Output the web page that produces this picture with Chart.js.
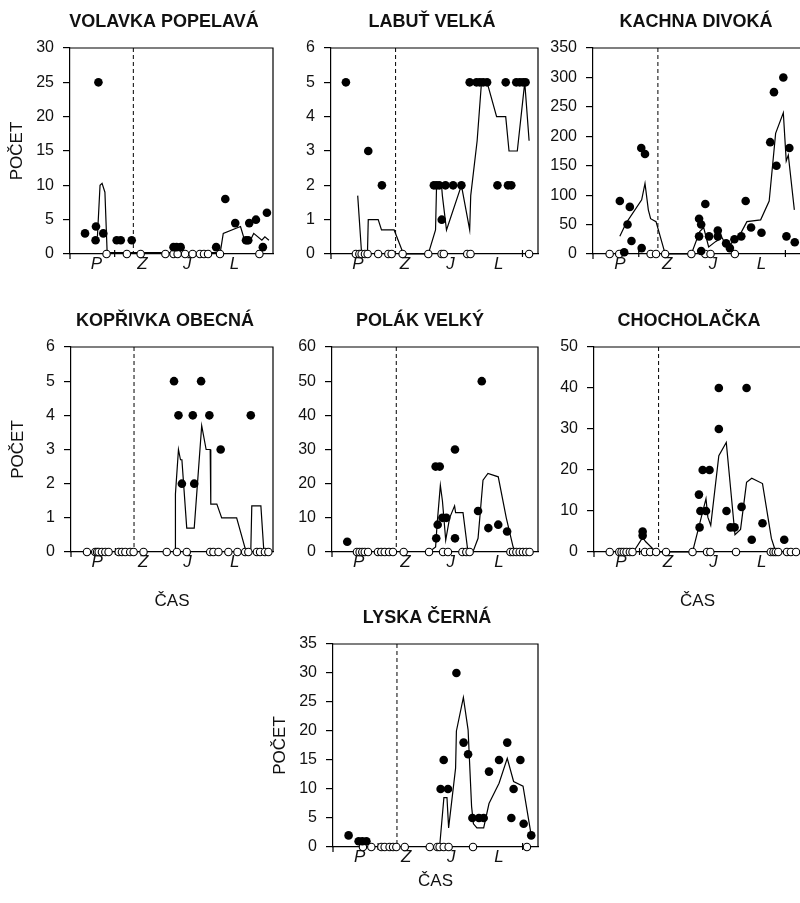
<!DOCTYPE html>
<html>
<head>
<meta charset="utf-8">
<script src="https://cdn.jsdelivr.net/npm/chart.js@4.4.0/dist/chart.umd.min.js"></script>
<style>
  body { margin: 0; background: #fff; }
  #wrap { position: relative; width: 800px; height: 903px; overflow: hidden; background: #fff; }
  .panel { position: absolute; }
</style>
</head>
<body>
<div id="wrap"></div>
<script>
// time axis: 0-100 across the season, labels P Z J L
var seasonLabels = ['P', 'Z', 'J', 'L'];
var seasonPos = [13, 35.7, 57.7, 81];
var yearTicks = [22, 92.5];
var winterStart = 31.2;

// [x, count] for counts > 0, x for zero counts, [x, mean] for the line
var volavkaDots = [[7.4,3],[12.6,2],[12.8,4],[14,25],[16.4,3],[23,2],[25,2],[30.4,2],[51,1],[52.5,1],[54.5,1],[72,1],[76.5,8],[81.4,4.5],[86.7,2],[87.8,2],[88.3,4.5],[91.6,5],[95,1],[97,6]];
var volavkaZeros = [18,28,34.8,47,51,53,56.7,60.4,64,66,68,73.9,93.3];
var volavkaMean = [[13.5,2.5],[14.8,10],[15.8,10.3],[17.2,9],[18.3,0.2],[30,0.2],[74,0.2],[75.5,3],[84,4],[86.5,1.5],[88,1.5],[90.5,3],[94.5,2],[96,2.5],[98,2]];

var labutDots = [[7.2,5],[18,3],[24.6,2],[49.7,2],[51,2],[52.3,2],[53.5,1],[55.3,2],[59,2],[63,2],[67,5],[70.3,5],[71.9,5],[73.5,5],[75.4,5],[80.4,2],[84.4,5],[85.5,2],[87.1,2],[89.5,5],[91.2,5],[92.8,5],[94,5]];
var labutZeros = [12,13.7,14.8,16.4,17.7,22.8,27.7,29.3,34.6,47,53.4,54.5,65.8,67.4,95.7];
var labutMean = [[12.9,1.7],[14.8,0],[17.6,0],[18,1],[22.8,1],[24.4,0.7],[30.5,0.7],[35,0],[47,0],[50.5,0.7],[51,2],[53.4,2],[53.8,1.7],[55.8,0.7],[63,2],[67,0.7],[67.5,1.7],[70.6,3.3],[72.7,5],[75.4,5],[80,4],[84.4,4],[86,3],[90,3],[93.6,5],[95.7,3.3]];

var kachnaDots = [[12.9,90],[15,3],[16.6,50],[17.7,80],[18.5,22],[23.2,180],[25,170],[23.4,10],[51,60],[52,50],[51,30],[52,5],[54,85],[55.8,30],[60,40],[60,30],[64,18],[65.8,10],[68,25],[71.3,30],[73.4,90],[76,45],[81,36],[85.2,190],[87,275],[88.2,150],[91.5,300],[93,30],[94.4,180],[97,20]];
var kachnaZeros = [8,12.6,27.7,30.3,34.7,47.3,54,56.5,68.2];
var kachnaMean = [[12.9,30],[16,53],[23.4,92],[25,120],[26.6,75],[27.7,60],[30.3,55],[34.7,0],[47.3,0],[51.3,38],[53.2,45],[55.6,12],[58.9,21],[62,28],[64.5,12],[67.7,22],[71,35],[74,55],[80.6,58],[84.7,90],[87.8,205],[91.5,240],[92.9,158],[93.9,168],[96.8,75]];

var koprivkaDots = [[51,5],[53.2,4],[54.9,2],[60.3,4],[61,2],[64.4,5],[68.5,4],[74.1,3],[89,4]];
var koprivkaZeros = [7.9,12,12.9,13.7,15.3,17,18.6,23.6,25.2,26.9,29.3,31,35.9,47.4,52.4,57.3,68.9,70.5,73,77.9,82.4,86.2,87.8,92,93.6,96,97.7];
var koprivkaMean = [[51.6,0],[51.7,1.7],[53.2,3],[54.2,2.7],[54.9,2.7],[57.3,0.7],[61,0.7],[64.7,3.7],[66.9,3],[68.9,3],[69.2,1.4],[72.2,1.4],[74.6,1],[82,1],[86.7,0],[89,0],[89.5,1.35],[94,1.35],[95.5,0]];

var polakDots = [[7.4,3],[50.3,25],[52.3,25],[50.6,4],[51.3,8],[53.6,10],[55.5,10],[59.7,30],[59.7,4],[70.9,12],[72.7,50],[75.9,7],[80.7,8],[85,6]];
var polakZeros = [12.1,13.4,14.7,15.9,17.5,22.3,23.9,25.6,27.7,29.6,34.8,47.1,53.9,56.3,63.3,65.2,66.8,86.6,87.9,89.5,91.1,92.7,94.3,95.9];
var polakMean = [[47.1,0],[50.3,1.5],[51,8],[52.6,19.5],[53.6,15],[55.2,3.5],[57.1,10],[59.5,13.5],[60,11.5],[63.6,11.5],[66,0],[68.4,0],[70.9,4],[73.3,21],[75.7,23],[80.7,22],[84.6,10],[87.9,1.5],[89.2,0]];

var chocholackaDots = [[23.5,5],[23.5,4],[50.7,14],[51.4,10],[51,6],[52.5,20],[55.8,20],[54.1,10],[60.3,40],[60.3,30],[64,10],[66,6],[67.9,6],[71.3,11],[73.7,40],[76.2,3],[81.4,7],[91.9,3]];
var chocholackaZeros = [7.6,12.2,13.3,14.4,15.7,17.3,18.6,24.6,27.1,30,34.8,47.6,54.6,56.2,68.6,85.4,86.7,87.8,89,93.2,95.1,97.6];
var chocholackaMean = [[19,0],[23.5,3.5],[25,2.5],[30,0],[47.6,0],[50.6,6],[54.1,13],[55,8.5],[56.4,6.5],[60.3,23.5],[63.9,26.7],[68.1,4.2],[70.8,5.5],[73.7,17],[76.2,18],[81.4,16.7],[85.7,3.3],[87.8,0]];

var lyskaDots = [[7.6,2],[12.5,1],[14.3,1],[16.3,1],[52.5,10],[54,15],[56.1,10],[60.2,30],[63.7,18],[65.9,16],[68,5],[71.2,5],[73.5,5],[76.1,13],[81,15],[85,18],[87,5],[88.1,10],[91.4,15],[93,4],[96.7,2]];
var lyskaZeros = [14.6,18.7,23.6,25.2,27.6,29.3,30.9,35,47.2,50.9,52,54,56.4,68.3,94.6];
var lyskaMean = [[52,0],[54.1,8.5],[55.6,8.5],[56.4,3.3],[59.8,13.6],[60.2,20],[63.6,25.8],[65.9,20.2],[67.6,7],[68.5,4],[70.2,3.3],[73.5,3.3],[76.1,7.5],[81,11],[85,15.3],[88.1,11.3],[92.7,10.5],[96.7,2]];

var panels = [
    {title: 'VOLAVKA POPELAVÁ', dots: volavkaDots, zeros: volavkaZeros, mean: volavkaMean, max: 30, step: 5, left: 70, top: 48, w: 203, h: 206, titleX: 164, yTitle: true, xH: 30},
    {title: 'LABUŤ VELKÁ', dots: labutDots, zeros: labutZeros, mean: labutMean, max: 6, step: 1, left: 331, top: 48, w: 207, h: 206, titleX: 432, xH: 30},
    {title: 'KACHNA DIVOKÁ', dots: kachnaDots, zeros: kachnaZeros, mean: kachnaMean, max: 350, step: 50, left: 593, top: 48, w: 208, h: 206, titleX: 696, xH: 30},
    {title: 'KOPŘIVKA OBECNÁ', dots: koprivkaDots, zeros: koprivkaZeros, mean: koprivkaMean, max: 6, step: 1, left: 71, top: 347, w: 202, h: 205, titleX: 165, yTitle: true, xTitle: true, xH: 62},
    {title: 'POLÁK VELKÝ', dots: polakDots, zeros: polakZeros, mean: polakMean, max: 60, step: 10, left: 332, top: 347, w: 206, h: 205, titleX: 420, xH: 30},
    {title: 'CHOCHOLAČKA', dots: chocholackaDots, zeros: chocholackaZeros, mean: chocholackaMean, max: 50, step: 10, left: 594, top: 347, w: 207, h: 205, titleX: 689, xTitle: true, xH: 62},
    {title: 'LYSKA ČERNÁ', dots: lyskaDots, zeros: lyskaZeros, mean: lyskaMean, max: 35, step: 5, left: 333, top: 644, w: 205, h: 203, titleX: 427, yTitle: true, xTitle: true, xH: 47}
];

var FONT = '"Liberation Sans", Arial, sans-serif';
var Y_AREA = 70, TOP_AREA = 48, RIGHT_PAD = 6;

// frame, winter divider, year marks and panel title
var framePlugin = {
    id: 'frame',
    beforeDatasetsDraw: function (chart) {
        var a = chart.chartArea, ctx = chart.ctx, xs = chart.scales.x;
        ctx.save();
        ctx.strokeStyle = '#000';
        ctx.lineWidth = 1.2;
        ctx.beginPath();
        ctx.moveTo(a.left, a.top);
        ctx.lineTo(a.right, a.top);
        ctx.lineTo(a.right, a.bottom);
        ctx.moveTo(a.left, a.bottom);
        ctx.lineTo(a.left, a.bottom + 5);
        yearTicks.forEach(function (v) {
            var px = xs.getPixelForValue(v);
            ctx.moveTo(px, a.bottom - 4);
            ctx.lineTo(px, a.bottom + 3);
        });
        ctx.stroke();
        var dx = xs.getPixelForValue(winterStart);
        ctx.lineWidth = 1;
        ctx.setLineDash([4, 3]);
        ctx.beginPath();
        ctx.moveTo(dx, a.top);
        ctx.lineTo(dx, a.bottom);
        ctx.stroke();
        ctx.restore();
    },
    afterDraw: function (chart, args, opts) {
        var ctx = chart.ctx;
        ctx.save();
        ctx.fillStyle = '#111';
        ctx.font = 'bold 18px ' + FONT;
        ctx.textAlign = 'center';
        ctx.textBaseline = 'middle';
        ctx.fillText(opts.text, opts.x, 22);
        ctx.restore();
    }
};

var wrap = document.getElementById('wrap');

panels.forEach(function (p) {
    var cv = document.createElement('canvas');
    var cw = Y_AREA + p.w + RIGHT_PAD, ch = TOP_AREA + p.h + p.xH;
    var cx = p.left - Y_AREA;
    cv.width = cw; cv.height = ch;
    cv.className = 'panel';
    cv.style.left = cx + 'px';
    cv.style.top = (p.top - TOP_AREA) + 'px';
    cv.style.width = cw + 'px';
    cv.style.height = ch + 'px';
    wrap.appendChild(cv);

    new Chart(cv.getContext('2d'), {
        type: 'scatter',
        data: {
            datasets: [
                {
                    data: p.mean.map(function (d) { return {x: d[0], y: d[1]}; }),
                    showLine: true, borderColor: '#000', borderWidth: 1.2,
                    pointRadius: 0, tension: 0, order: 3, clip: false
                },
                {
                    data: p.zeros.map(function (v) { return {x: v, y: 0}; }),
                    pointRadius: 3.7, backgroundColor: '#fff', borderColor: '#000',
                    borderWidth: 1.1, order: 2, clip: false
                },
                {
                    data: p.dots.map(function (d) { return {x: d[0], y: d[1]}; }),
                    pointRadius: 4.3, backgroundColor: '#000', borderColor: '#000',
                    borderWidth: 0, order: 1, clip: false
                }
            ]
        },
        options: {
            responsive: false,
            animation: false,
            devicePixelRatio: 1,
            layout: {padding: {top: TOP_AREA, right: RIGHT_PAD, left: 0, bottom: 0}},
            plugins: {
                legend: {display: false},
                tooltip: {enabled: false},
                frame: {text: p.title, x: p.titleX - cx}
            },
            scales: {
                x: {
                    type: 'linear', min: 0, max: 100,
                    afterFit: function (s) { s.height = p.xH; },
                    afterBuildTicks: function (s) {
                        s.ticks = seasonPos.map(function (v) { return {value: v}; });
                    },
                    ticks: {
                        autoSkip: false, maxRotation: 0, padding: -8, color: '#111',
                        font: {family: FONT, size: 17, style: 'italic'},
                        callback: function (v, i) { return seasonLabels[i]; }
                    },
                    grid: {display: false},
                    border: {display: true, color: '#000', width: 1.2},
                    title: {
                        display: !!p.xTitle, text: 'ČAS', color: '#111',
                        font: {family: FONT, size: 17}, padding: {top: 0, bottom: 2}
                    }
                },
                y: {
                    min: 0, max: p.max,
                    afterFit: function (s) { s.width = Y_AREA; },
                    ticks: {
                        stepSize: p.step, padding: 9, color: '#111',
                        font: {family: FONT, size: 16}
                    },
                    grid: {drawOnChartArea: false, tickLength: 7, color: '#000', tickColor: '#000', lineWidth: 1.2},
                    border: {color: '#000', width: 1.2},
                    title: {
                        display: !!p.yTitle, text: 'POČET', color: '#111',
                        font: {family: FONT, size: 17}, padding: {top: 7, bottom: 0}
                    }
                }
            }
        },
        plugins: [framePlugin]
    });
});
</script>
</body>
</html>
